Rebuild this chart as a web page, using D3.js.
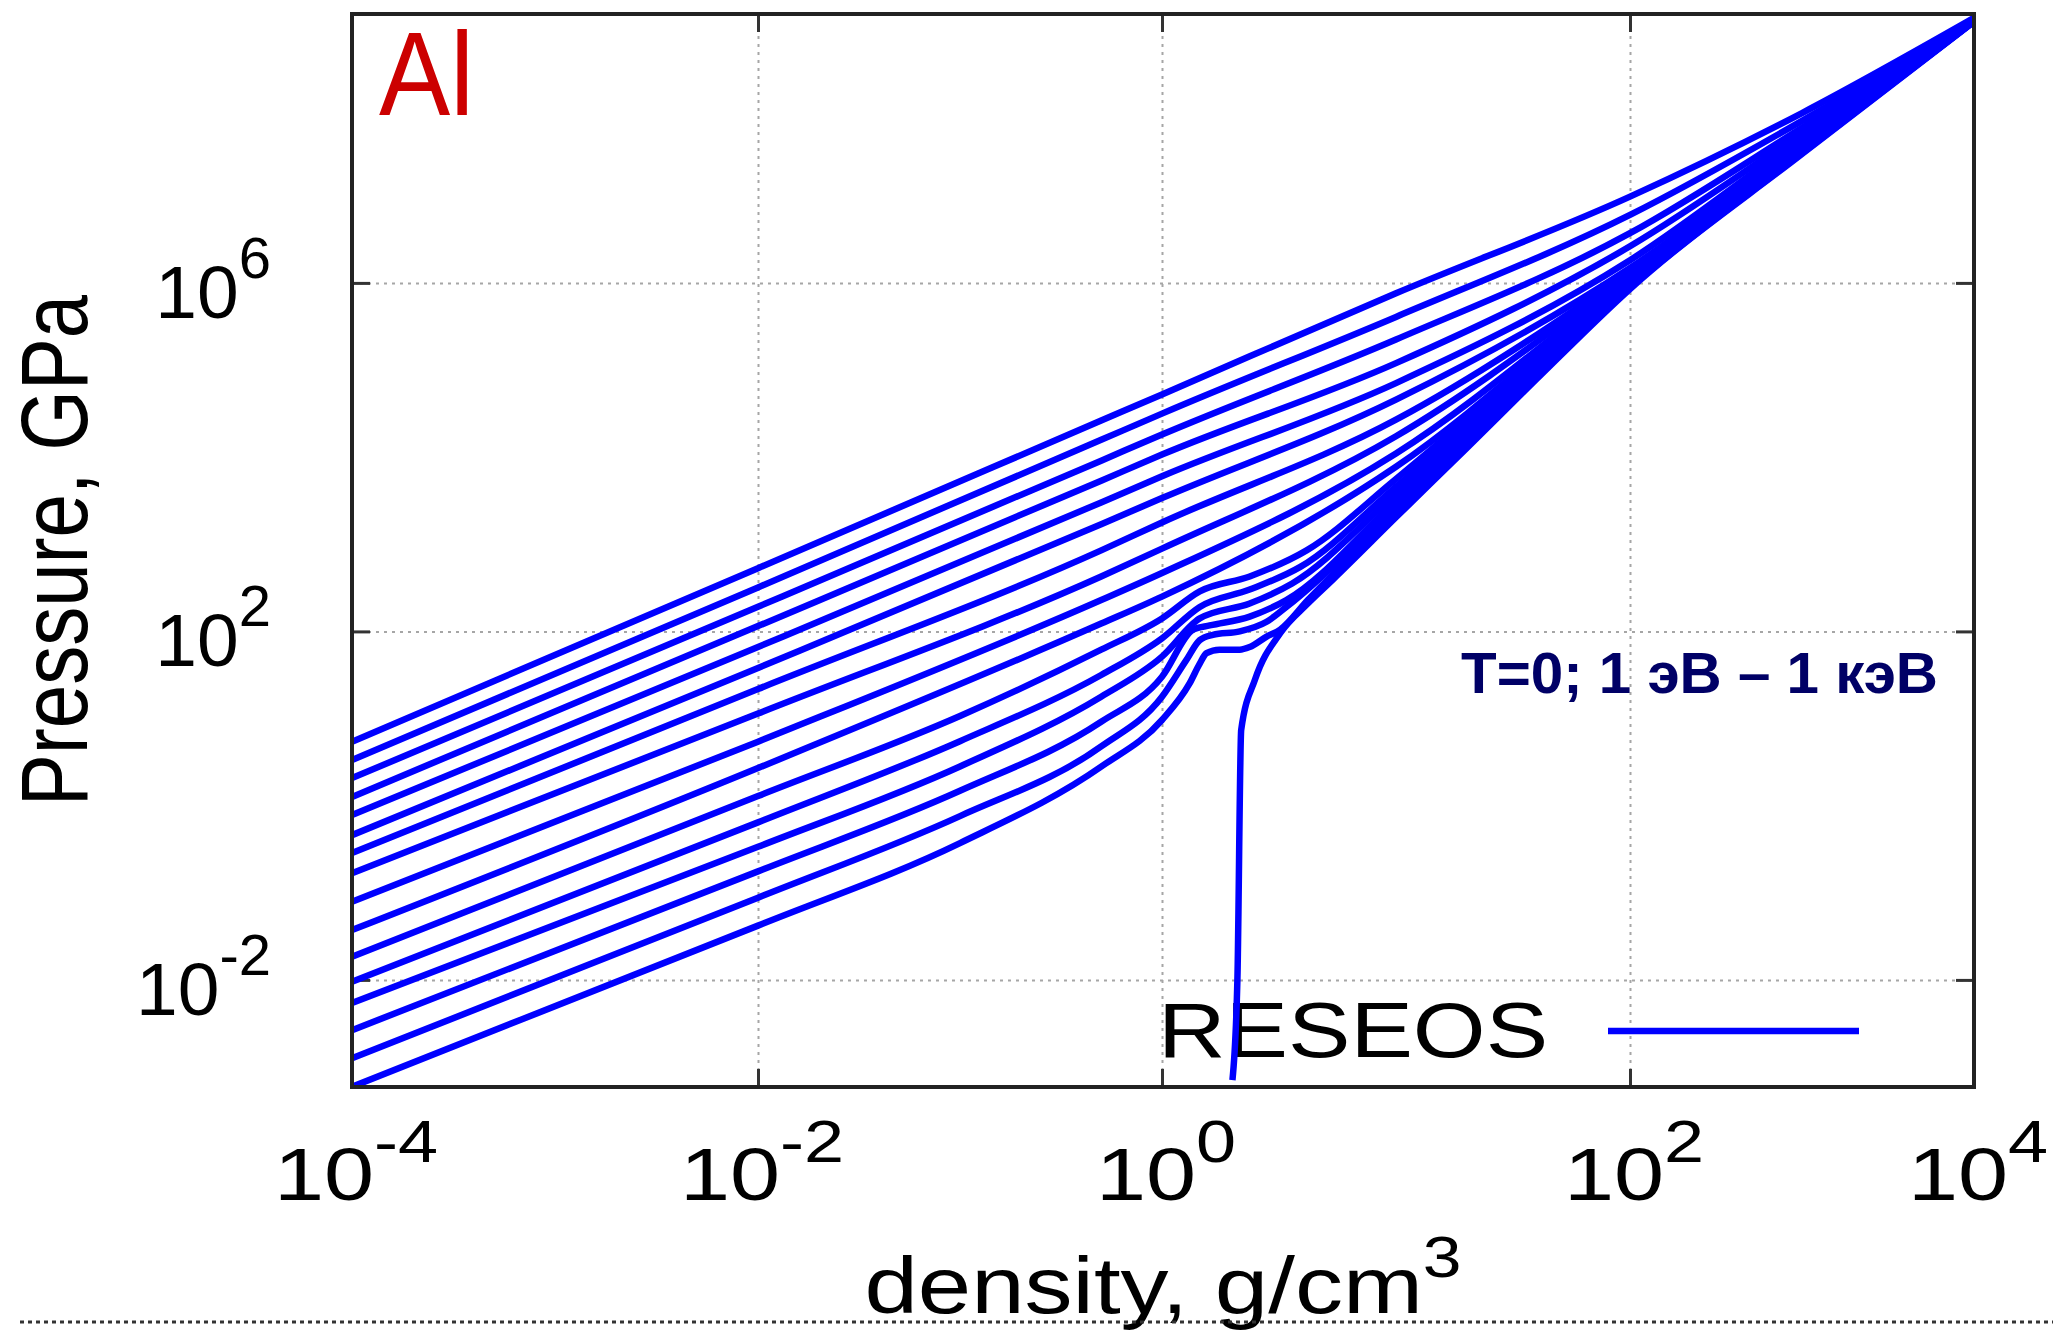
<!DOCTYPE html>
<html>
<head>
<meta charset="utf-8">
<title>Al isotherms</title>
<script src="https://cdn.jsdelivr.net/npm/d3@7/dist/d3.min.js"></script>
<style>
  body { margin: 0; background: #fff; }
  svg { display: block; }
  text { font-family: "Liberation Sans", Arial, Helvetica, sans-serif; }
</style>
</head>
<body>
<script>
// isotherms from the hottest (1 keV, top) down to 1 eV, then the cold curve T=0
// density in g/cm3, pressure in GPa

// the ten hotter isotherms share one density grid
const rhoHot = [1e-4, 1e-2, 0.5, 1, 10, 100, 1000, 1e4];
const p01 = [5.42, 532, 2.63e4, 5.25e4, 7.59e5, 9.77e6, 8.91e7, 1.10e9];
const p02 = [3.34, 320, 1.58e4, 3.16e4, 4.07e5, 6.03e6, 7.24e7, 1.08e9];
const p03 = [2.07, 192, 9.12e3, 1.82e4, 2.24e5, 3.72e6, 6.03e7, 1.07e9];
const p04 = [1.26, 115, 5.37e3, 1.07e4, 1.20e5, 2.63e6, 5.25e7, 1.06e9];
const p05 = [0.780, 66.2, 3.02e3, 6.03e3, 7.08e4, 1.82e6, 4.68e7, 1.05e9];
const p06 = [0.459, 38.0, 1.70e3, 3.39e3, 4.57e4, 1.48e6, 4.17e7, 1.05e9];
const p07 = [0.286, 21.8, 851, 1.78e3, 2.69e4, 1.35e6, 3.89e7, 1.04e9];
const p08 = [0.168, 11.4, 427, 891, 1.74e4, 1.26e6, 3.72e7, 1.04e9];
const p09 = [0.0789, 5.42, 229, 468, 1.10e4, 1.17e6, 3.55e7, 1.02e9];
const p10 = [0.0373, 2.70, 123, 251, 7.76e3, 1.12e6, 3.47e7, 1.02e9];

// the six coolest ones bend near solid density
const rho11 = [1e-4, 1e-2, 0.1, 0.5, 1, 1.45, 2.37, 4.15, 10, 100, 1000, 1e4];
const p11 = [0.0184, 1.29, 10.7, 61.7, 141, 288, 427, 851, 5.62e3, 1.10e6, 3.39e7, 1.02e9];
const rho12 = [1e-4, 1e-2, 0.1, 0.5, 1, 1.45, 2.37, 3.9, 10, 100, 1000, 1e4];
const p12 = [0.00951, 0.643, 5.50, 31.6, 83.2, 191, 302, 550, 4.57e3, 1.07e6, 3.31e7, 1.02e9];
const rho13 = [1e-4, 1e-2, 0.1, 0.5, 1, 1.45, 2.37, 3.6, 10, 100, 1000, 1e4];
const p13 = [0.00542, 0.337, 2.82, 17.8, 51.3, 141, 209, 355, 3.80e3, 1.02e6, 3.24e7, 1.01e9];
const rho14 = [1e-4, 1e-2, 0.1, 0.5, 1, 1.36, 1.6, 2.37, 3.4, 10, 100, 1000, 1e4];
const p14 = [0.00265, 0.176, 1.48, 9.18, 30.2, 105, 117, 148, 229, 3.16e3, 9.77e5, 3.16e7, 1.01e9];
const rho15 = [1e-4, 1e-2, 0.1, 0.5, 1, 1.27, 1.45, 1.65, 2.15, 2.8, 3.4, 10, 100, 1000, 1e4];
const p15 = [0.00126, 0.0879, 0.759, 4.79, 17.8, 46.8, 79.4, 91.2, 100, 129, 191, 2.69e3, 9.33e5, 3.16e7, 1.00e9];
const rho16 = [1e-4, 1e-2, 0.1, 0.5, 1, 1.31, 1.45, 1.55, 1.76, 2.15, 2.37, 2.8, 3.2, 4.2, 10, 100, 1000, 1e4];
const p16 = [5.93e-4, 0.0420, 0.372, 2.80, 9.62, 25.1, 42.7, 56.2, 61.7, 61.7, 66.1, 87.1, 105, 229, 2.29e3, 8.91e5, 3.09e7, 1.00e9];

// cold curve, T = 0
const rhoCold = [2.0, 2.1, 2.18, 2.5, 3.2, 4.2, 5.4, 10, 20, 40, 100, 1000, 1e4];
const pCold = [7.08e-4, 0.01, 7.41, 28.2, 95.5, 209, 398, 2.04e3, 1.26e4, 7.94e4, 8.51e5, 3.02e7, 1.0e9];

const xTickVals = [1e-4, 1e-2, 1, 1e2, 1e4];
const xTickExp = ["-4", "-2", "0", "2", "4"];
const yTickVals = [1e-2, 1e2, 1e6];
const yTickExp = ["-2", "2", "6"];

const curves = [
  [rhoHot, p01], [rhoHot, p02], [rhoHot, p03], [rhoHot, p04], [rhoHot, p05],
  [rhoHot, p06], [rhoHot, p07], [rhoHot, p08], [rhoHot, p09], [rhoHot, p10],
  [rho11, p11], [rho12, p12], [rho13, p13], [rho14, p14], [rho15, p15], [rho16, p16],
  [rhoCold, pCold]
];

const W = 2053, H = 1334;
const box = {left: 352, right: 1974, top: 14, bottom: 1087};
const SX = 1.2; // the plot text along x is a bit wider than the font

const svg = d3.select("body").append("svg")
  .attr("width", W)
  .attr("height", H);

// the decades are not equally wide in the picture, so a piecewise log scale
const x = d3.scaleLog()
  .domain([1e-4, 1e-2, 1, 1e2, 1e4])
  .range([box.left, 758, 1162, 1630, box.right]);

const y = d3.scaleLog()
  .domain([5.9e-4, 1.22e9])
  .range([box.bottom, box.top]);

// grid
svg.append("g")
  .attr("transform", `translate(0,${box.bottom})`)
  .call(d3.axisBottom(x).tickValues([1e-2, 1, 1e2]).tickSize(-(box.bottom - box.top)).tickFormat(""))
  .call(g => g.select(".domain").remove())
  .selectAll("line")
  .attr("stroke", "#a6a6a6").attr("stroke-width", 2).attr("stroke-dasharray", "3,5");

svg.append("g")
  .attr("transform", `translate(${box.left},0)`)
  .call(d3.axisLeft(y).tickValues(yTickVals).tickSize(-(box.right - box.left)).tickFormat(""))
  .call(g => g.select(".domain").remove())
  .selectAll("line")
  .attr("stroke", "#a6a6a6").attr("stroke-width", 2).attr("stroke-dasharray", "3,5");

// inward tick marks on all four sides
const tickLen = -18;
const sides = [
  [d3.axisBottom(x).tickValues(xTickVals), `translate(0,${box.bottom})`],
  [d3.axisTop(x).tickValues(xTickVals), `translate(0,${box.top})`],
  [d3.axisLeft(y).tickValues(yTickVals), `translate(${box.left},0)`],
  [d3.axisRight(y).tickValues(yTickVals), `translate(${box.right},0)`]
];
sides.forEach(([ax, tr]) => {
  svg.append("g")
    .attr("transform", tr)
    .call(ax.tickSize(tickLen).tickFormat(""))
    .call(g => g.select(".domain").remove())
    .selectAll("line")
    .attr("stroke", "#333").attr("stroke-width", 3);
});

// legend
svg.append("g")
  .attr("transform", `translate(1158,1057) scale(${SX},1)`)
  .append("text")
  .attr("font-size", 78)
  .attr("fill", "#000")
  .text("RESEOS");

svg.append("line")
  .attr("x1", 1608).attr("x2", 1859)
  .attr("y1", 1031).attr("y2", 1031)
  .attr("stroke", "#0000ff")
  .attr("stroke-width", 6.5);

// curves
svg.append("clipPath").attr("id", "clip")
  .append("rect")
  .attr("x", box.left).attr("y", box.top)
  .attr("width", box.right - box.left).attr("height", box.bottom - box.top);

const line = d3.line()
  .x(d => x(d[0]))
  .y(d => y(d[1]))
  .curve(d3.curveMonotoneX);

svg.append("g")
  .attr("clip-path", "url(#clip)")
  .selectAll("path")
  .data(curves)
  .join("path")
  .attr("d", ([rho, p]) => line(rho.map((r, i) => [r, p[i]])))
  .attr("fill", "none")
  .attr("stroke", "#0000ff")
  .attr("stroke-width", 6.5)
  .attr("stroke-linejoin", "round");

// frame
svg.append("rect")
  .attr("x", box.left).attr("y", box.top)
  .attr("width", box.right - box.left).attr("height", box.bottom - box.top)
  .attr("fill", "none")
  .attr("stroke", "#222")
  .attr("stroke-width", 4);

// tick labels
xTickVals.forEach((v, i) => {
  const t = svg.append("g")
    .attr("transform", `translate(${x(v) + 4},1200) scale(${SX},1)`)
    .append("text")
    .attr("text-anchor", "middle")
    .attr("font-size", 75);
  t.append("tspan").text("10");
  t.append("tspan").attr("font-size", 60).attr("dy", -38).text(xTickExp[i]);
});

yTickVals.forEach((v, i) => {
  const t = svg.append("text")
    .attr("x", 271)
    .attr("y", y(v) + 35)
    .attr("text-anchor", "end")
    .attr("font-size", 75);
  t.append("tspan").text("10");
  t.append("tspan").attr("font-size", 58).attr("dy", -40).text(yTickExp[i]);
});

// axis titles
svg.append("g")
  .attr("transform", `translate(87,${(box.top + box.bottom) / 2}) scale(${SX},1) rotate(-90)`)
  .append("text")
  .attr("text-anchor", "middle")
  .attr("font-size", 78)
  .text("Pressure, GPa");

const xl = svg.append("g")
  .attr("transform", `translate(${(box.left + box.right) / 2},1313) scale(${SX},1)`)
  .append("text")
  .attr("text-anchor", "middle")
  .attr("font-size", 80);
xl.append("tspan").text("density, g/cm");
xl.append("tspan").attr("font-size", 58).attr("dy", -36).text("3");

// dotted separator under the chart
svg.append("line")
  .attr("x1", 20).attr("x2", W)
  .attr("y1", 1322).attr("y2", 1322)
  .attr("stroke", "#333")
  .attr("stroke-width", 3)
  .attr("stroke-dasharray", "4,4");

// slide annotations
svg.append("text")
  .attr("x", 379).attr("y", 115)
  .attr("font-size", 119)
  .attr("fill", "#cc0000")
  .attr("textLength", 95)
  .attr("lengthAdjust", "spacingAndGlyphs")
  .text("Al");

svg.append("text")
  .attr("x", 1461).attr("y", 693)
  .attr("font-size", 57)
  .attr("font-weight", "bold")
  .attr("fill", "#000066")
  .attr("textLength", 477)
  .attr("lengthAdjust", "spacingAndGlyphs")
  .text("T=0; 1 эВ – 1 кэВ");
</script>
</body>
</html>
